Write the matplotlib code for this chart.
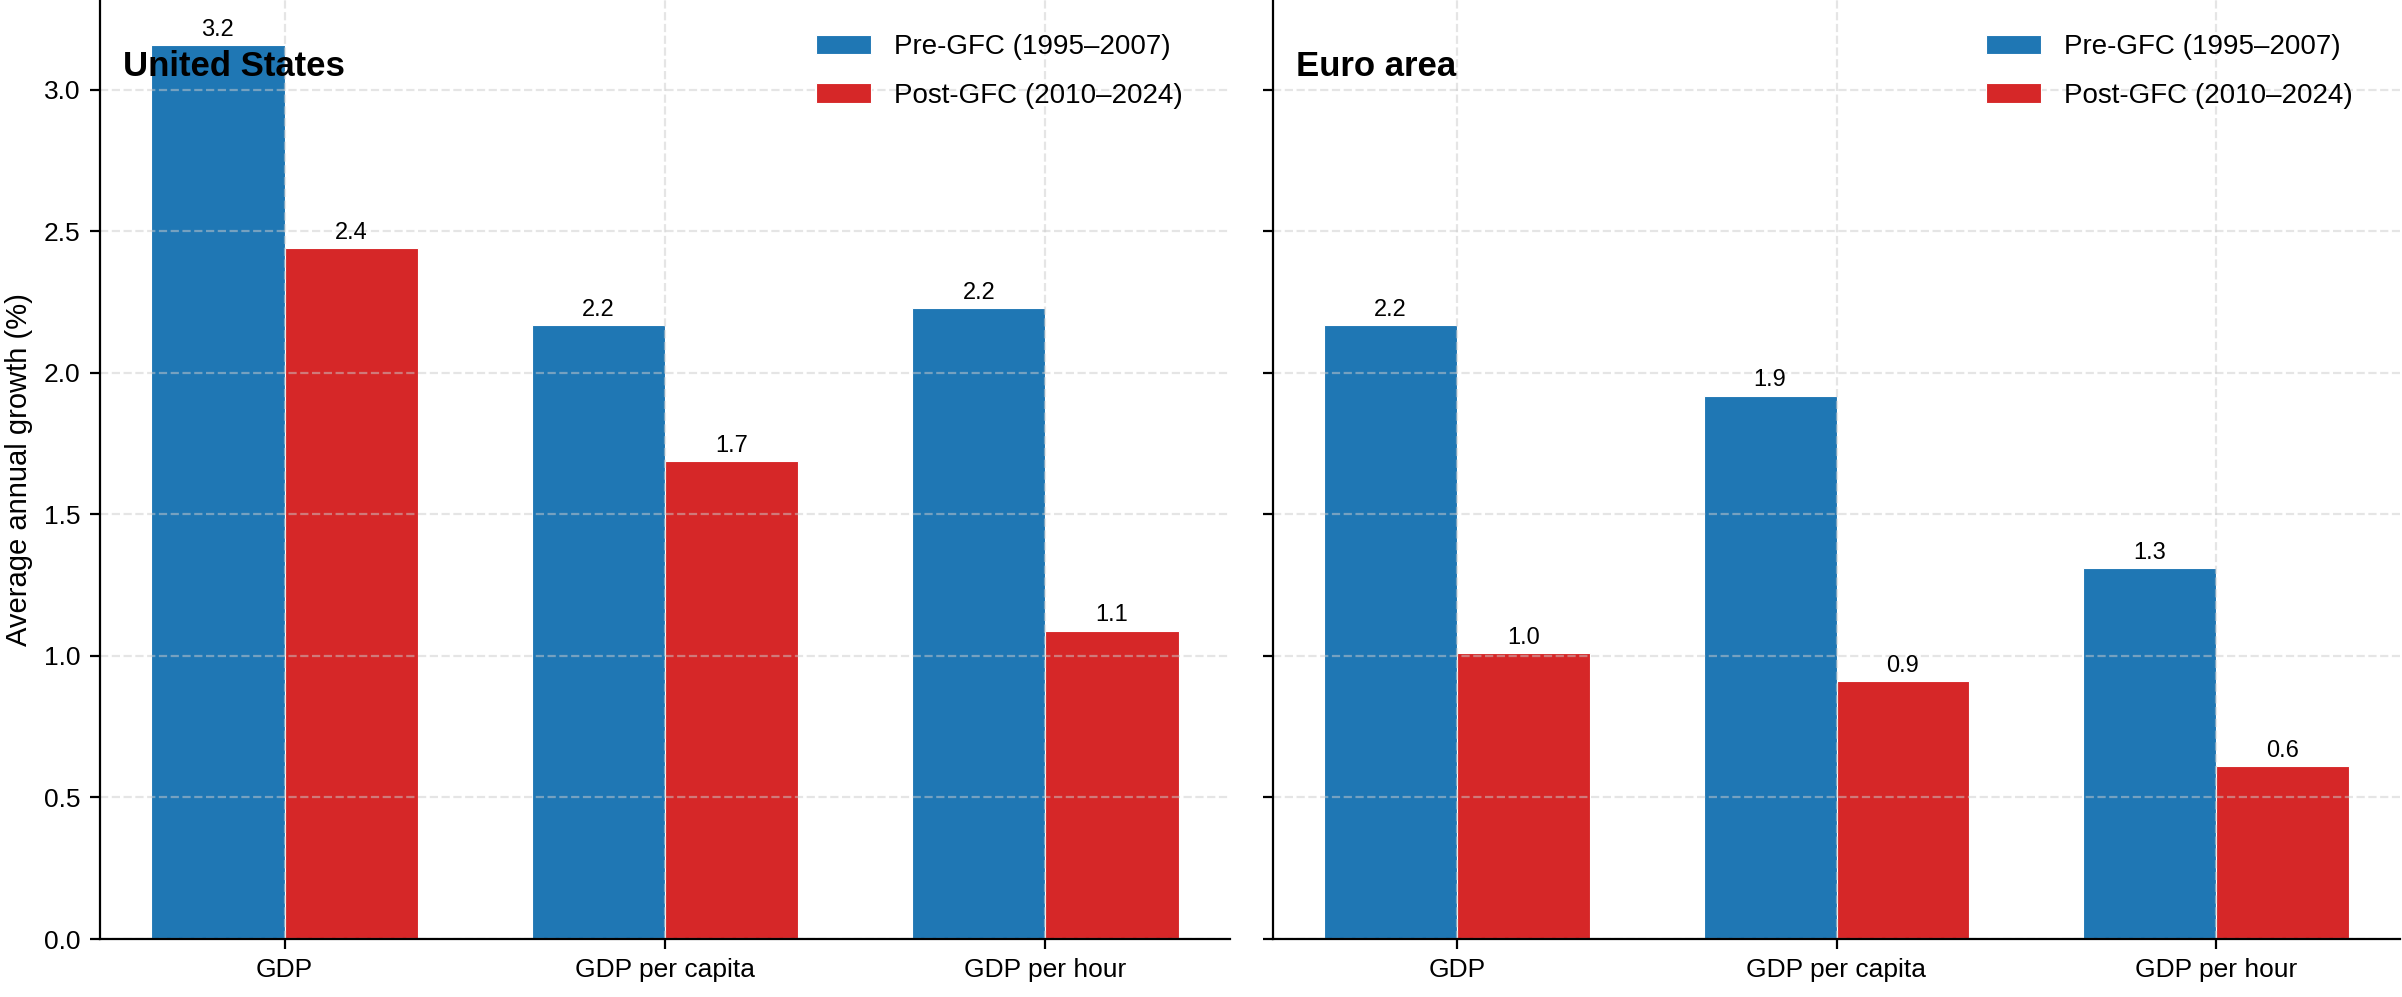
import matplotlib
matplotlib.use("Agg")
import matplotlib.pyplot as plt
import numpy as np
from matplotlib import font_manager

# Data (average annual growth, %)
categories = ["GDP", "GDP per capita", "GDP per hour"]
periods = ["Pre-GFC (1995\u20132007)", "Post-GFC (2010\u20132024)"]
us_pre = [3.16, 2.17, 2.23]
us_post = [2.44, 1.69, 1.09]
ea_pre = [2.17, 1.92, 1.31]
ea_post = [1.01, 0.91, 0.61]

names = {f.name for f in font_manager.fontManager.ttflist}
family = "Liberation Sans Narrow" if "Liberation Sans Narrow" in names else "Liberation Sans"
plt.rcParams["font.family"] = [family, "DejaVu Sans"]

BLUE = "#1f77b4"
RED = "#d62728"

fig = plt.figure(figsize=(12.01, 4.985), dpi=200)
ax1 = fig.add_axes([100 / 2402, 58 / 997, 1130 / 2402, 939 / 997])
ax2 = fig.add_axes([1273 / 2402, 58 / 997, 1127 / 2402, 939 / 997], sharey=ax1)

x = np.arange(len(categories))
width = 0.35
ymax = max(us_pre + us_post + ea_pre + ea_post) * 1.05

for ax, pre, post, title in [(ax1, us_pre, us_post, "United States"),
                             (ax2, ea_pre, ea_post, "Euro area")]:
    b1 = ax.bar(x - width / 2, pre, width, color=BLUE, edgecolor="white", linewidth=0.4, label=periods[0])
    b2 = ax.bar(x + width / 2, post, width, color=RED, edgecolor="white", linewidth=0.4, label=periods[1])
    ax.bar_label(b1, fmt="%.1f", padding=1.5, fontsize=8.5)
    ax.bar_label(b2, fmt="%.1f", padding=1.5, fontsize=8.5)
    ax.set_xticks(x)
    ax.set_xticklabels(categories, fontsize=9.5)
    ax.tick_params(axis="y", labelsize=9.5)
    ax.grid(True, linestyle="--", color="#cccccc", alpha=0.5, linewidth=0.8)
    ax.spines["top"].set_visible(False)
    ax.spines["right"].set_visible(False)
    ax.text(0.02, 0.947, title, transform=ax.transAxes, fontsize=12.5, fontweight="bold", va="top", ha="left")
    ax.legend(loc="upper right", frameon=False, fontsize=10, labelspacing=0.8,
              bbox_to_anchor=(0.98, 0.99))

ax1.set_ylim(0, ymax)
ax1.set_yticks(np.arange(0, 3.01, 0.5))
ax1.set_ylabel("Average annual growth (%)", fontsize=10.5)
ax2.tick_params(axis="y", labelleft=False)

fig.savefig("out.png", dpi=200)
